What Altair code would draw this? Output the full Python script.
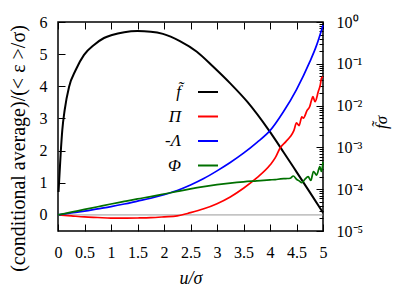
import altair as alt
import pandas as pd

# ---------------- data ----------------
SERIES = ["f\u0303", "\u03a0", "-\u039b", "\u03a6"]
COLORS = ["#000000", "#ff0000", "#0000ff", "#007000"]

# f~ sigma (right, log axis)
U_F = [0.01, 0.051, 0.081, 0.126, 0.208, 0.334, 0.491, 0.679, 0.868, 1.02, 1.25,
       1.5, 1.75, 1.98, 2.3, 2.62, 2.93, 3.25, 3.57, 3.98, 4.25, 4.5, 4.75, 5.0]
F = [8.6e-5, 7.4e-4, 2.6e-3, 7.85e-3, 2.79e-2, 7.1e-2, 0.163, 0.282, 0.414, 0.489, 0.57,
     0.605, 0.585, 0.52, 0.35, 0.195, 0.085, 0.034, 0.0124, 2.55e-3, 7.9e-4, 2.6e-4, 8.5e-5, 2.75e-5]

# Pi (left axis)
U_PI = [0, 0.25, 0.5, 0.75, 1.0, 1.25, 1.5, 1.75, 2.0, 2.25, 2.5, 2.75, 3.0, 3.25, 3.5,
        3.75, 4.0, 4.1, 4.19, 4.3, 4.38, 4.45, 4.5, 4.55, 4.6, 4.63, 4.7, 4.75, 4.78,
        4.81, 4.85, 4.91, 4.95, 4.97, 5.0]
PI = [0, -0.03, -0.06, -0.08, -0.10, -0.10, -0.095, -0.085, -0.06, -0.03, 0.07, 0.19, 0.35,
      0.56, 0.83, 1.15, 1.55, 1.78, 2.08, 2.28, 2.43, 2.62, 2.86, 2.78, 3.05, 3.01, 3.25,
      3.37, 3.55, 3.68, 3.52, 3.83, 4.05, 4.25, 4.30]

# -Lambda (left axis)
U_LAM = [0, 0.25, 0.5, 0.75, 1.0, 1.25, 1.5, 1.75, 2.0, 2.25, 2.5, 2.75, 3.0, 3.25, 3.5,
         3.75, 4.0, 4.25, 4.5, 4.75, 4.88, 5.0]
LAM = [0, 0.06, 0.12, 0.19, 0.26, 0.34, 0.43, 0.52, 0.63, 0.76, 0.93, 1.13, 1.37, 1.63,
       1.92, 2.25, 2.62, 3.2, 3.9, 4.76, 5.28, 5.9]

# Phi (left axis)
U_PHI = [0, 0.25, 0.5, 0.75, 1.0, 1.25, 1.5, 1.75, 2.0, 2.25, 2.5, 2.75, 3.0, 3.25, 3.5,
         3.75, 4.0, 4.1, 4.2, 4.3, 4.38, 4.44, 4.5, 4.55, 4.6, 4.66, 4.72, 4.77, 4.82,
         4.88, 4.94, 4.97, 5.0]
PHI = [0, 0.085, 0.17, 0.255, 0.34, 0.42, 0.5, 0.57, 0.65, 0.73, 0.81, 0.88, 0.94, 0.99,
       1.03, 1.06, 1.09, 1.10, 1.12, 1.13, 1.14, 1.21, 1.11, 1.06, 1.0, 1.11, 1.19, 1.07,
       1.35, 1.24, 1.5, 1.35, 1.65]

X_TICKS = [0, 0.5, 1, 1.5, 2, 2.5, 3, 3.5, 4, 4.5, 5]
Y_TICKS = [0, 1, 2, 3, 4, 5, 6]
LOG_MAJOR = [1e-5, 1e-4, 1e-3, 1e-2, 1e-1, 1]
LOG_MINOR = [k * 10.0 ** e for e in range(-5, 0) for k in range(2, 10)]

# ---------------- tables ----------------
df_f = pd.DataFrame({"u": U_F, "v": F, "series": SERIES[0]})
df_c = pd.concat([
    pd.DataFrame({"u": U_PI, "v": PI, "series": SERIES[1]}),
    pd.DataFrame({"u": U_LAM, "v": LAM, "series": SERIES[2]}),
    pd.DataFrame({"u": U_PHI, "v": PHI, "series": SERIES[3]}),
])
df_zero = pd.DataFrame({"u": [0, 5], "v": [0, 0]})

SERIF = "Liberation Serif"
AX = dict(labelFont=SERIF, labelFontSize=16, labelColor="black",
          titleFont=SERIF, titleFontWeight="normal", titleColor="black",
          tickColor="black", tickWidth=1, domain=False, grid=False)

x_scale = alt.Scale(domain=[0, 5], nice=False, zero=False)
y_lin = alt.Scale(domain=[-0.5, 6], nice=False, zero=False)
y_log = alt.Scale(type="log", domain=[1e-5, 1], nice=False)

color = alt.Color(
    "series:N",
    scale=alt.Scale(domain=SERIES, range=COLORS),
    legend=alt.Legend(
        orient="none", legendX=139, legendY=59, title=None,
        symbolType="stroke", symbolSize=400, symbolStrokeWidth=2,
        labelAlign="right", labelOffset={"expr": "-38"},
        labelFont=SERIF, labelFontSize=17, labelFontStyle="italic", labelColor="black",
        rowPadding=5.5, padding=0,
    ),
)

log_label = ("datum.value >= 0.5 ? '10\u2070' : datum.value >= 0.05 ? '10\u207b\u00b9' : "
             "datum.value >= 0.005 ? '10\u207b\u00b2' : datum.value >= 0.0005 ? '10\u207b\u00b3' : "
             "datum.value >= 0.00005 ? '10\u207b\u2074' : '10\u207b\u2075'")

zero_layer = alt.Chart(df_zero).mark_line(color="#999999", strokeWidth=1).encode(
    x=alt.X("u:Q", scale=x_scale, axis=None),
    y=alt.Y("v:Q", scale=y_lin, axis=None),
)

black_layer = alt.Chart(df_f).mark_line(strokeWidth=2, interpolate="monotone").encode(
    x=alt.X("u:Q", scale=x_scale, axis=None),
    y=alt.Y("v:Q", scale=y_log, axis=alt.Axis(
        orient="right", values=LOG_MAJOR, labelExpr=log_label, offset=-7, tickSize=7,
        labelPadding=13, labelAlign="left",
        title="f\u0303\u03c3", titleFontStyle="italic", titleFontSize=17,
        titleAngle=270, titleX=74, titleY=100, titleBaseline="bottom", **AX)),
    color=color,
)

minor_layer = alt.Chart(df_f).mark_line(opacity=0).encode(
    x=alt.X("u:Q", scale=x_scale, axis=alt.Axis(
        orient="top", values=X_TICKS, labels=False, offset=-7, tickSize=7,
        title=None, **AX)),
    y=alt.Y("v:Q", scale=y_log, axis=alt.Axis(
        orient="right", values=LOG_MINOR, labels=False, offset=-4, tickSize=4,
        title=None, **AX)),
)

colored = alt.Chart(df_c).mark_line(strokeWidth=1.7, interpolate="monotone").encode(
    x=alt.X("u:Q", scale=x_scale, axis=alt.Axis(
        orient="bottom", values=X_TICKS, format="~g", offset=-7, tickSize=7,
        labelPadding=13, labelFlush=False,
        title="u/\u03c3", titleFontStyle="italic", titleFontSize=18, titlePadding=9, **AX)),
    y=alt.Y("v:Q", scale=y_lin, axis=alt.Axis(
        orient="left", values=Y_TICKS, format="~g", offset=-7, tickSize=7,
        labelPadding=11,
        title="(conditional average)/(< \u03b5 >/\u03c3)", titleFontSize=20,
        titleX=-37, titleY=126, titleBaseline="bottom", **AX)),
    color=color,
)

chart = alt.layer(zero_layer, black_layer, minor_layer, colored).resolve_scale(
    x="independent", y="independent"
).resolve_axis(
    x="independent", y="independent"
).properties(
    width=265, height=209,
    autosize=alt.AutoSizeParams(type="none"),
    padding={"left": 50, "top": 14, "right": 80, "bottom": 62},
    background="white",
).configure_view(
    stroke="black", strokeWidth=1.5
)

chart.save("out.html", embed_options={"renderer": "svg", "actions": False})
